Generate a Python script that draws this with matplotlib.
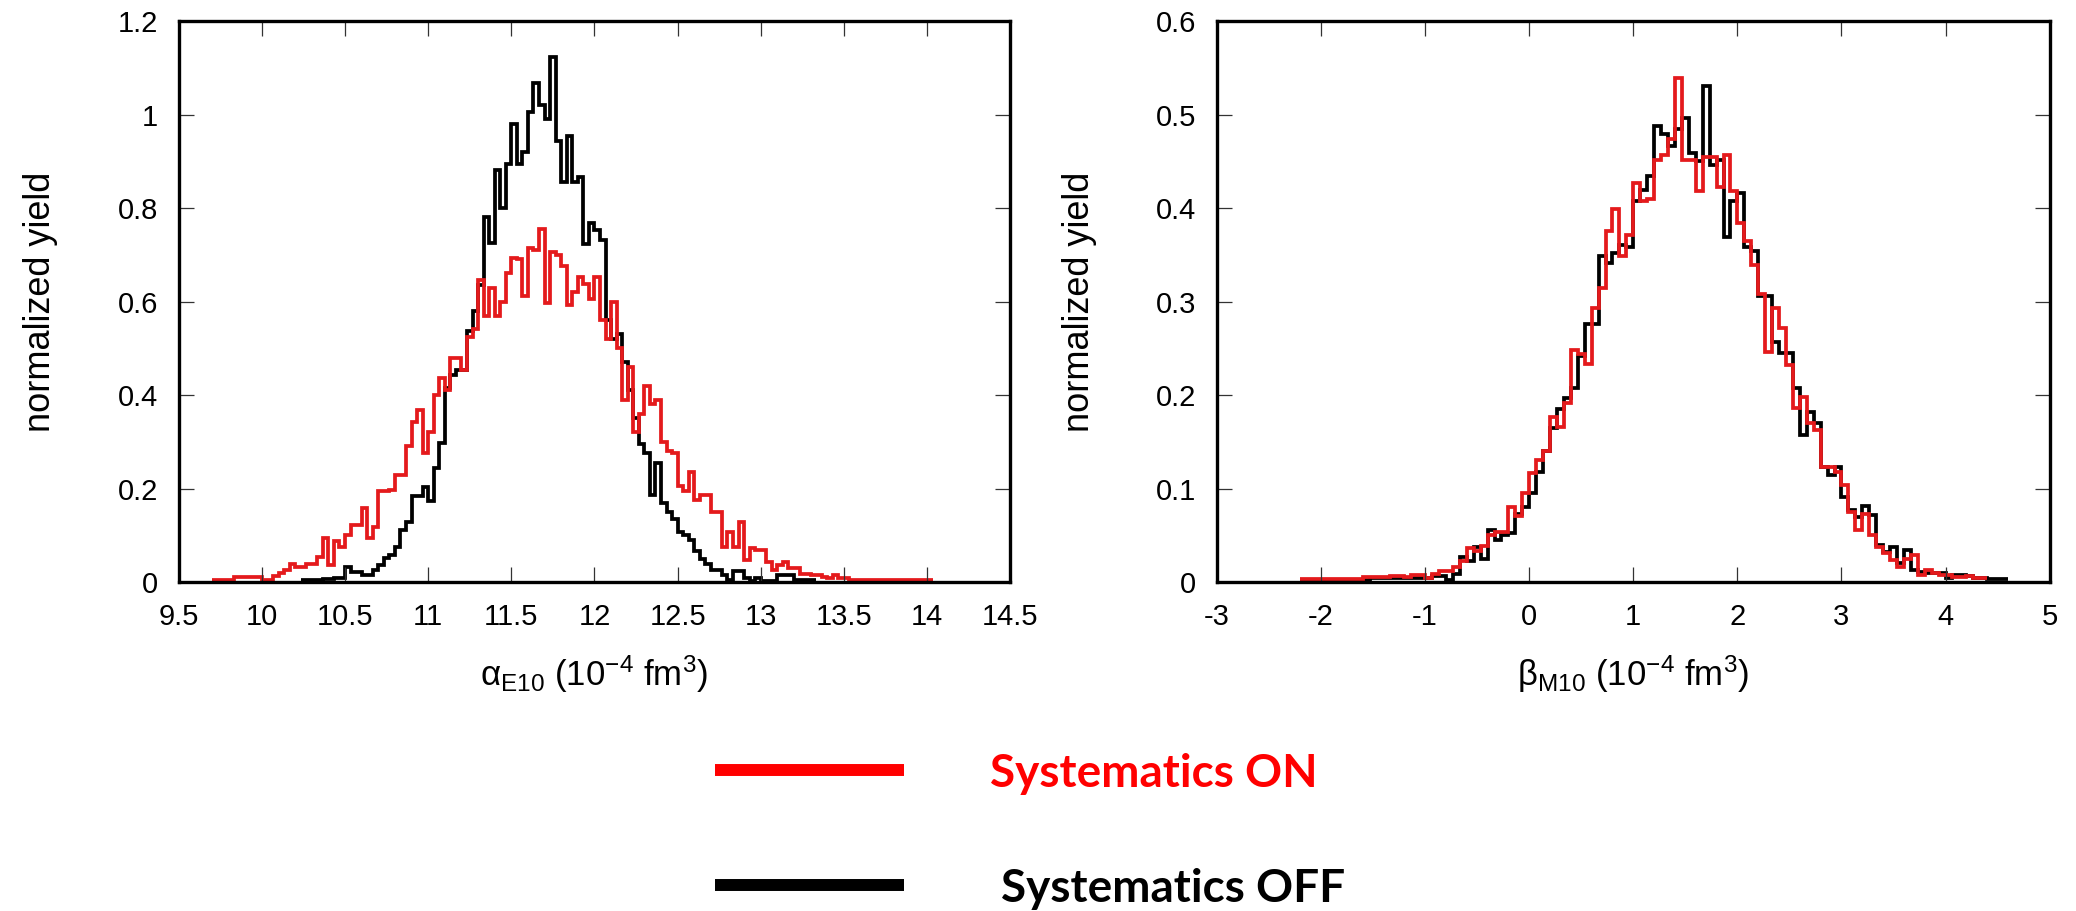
import numpy as np
import matplotlib
matplotlib.use("Agg")
import matplotlib.pyplot as plt
from matplotlib.lines import Line2D
from matplotlib.ticker import FuncFormatter, MultipleLocator

plt.rcParams["font.family"] = ["Liberation Sans", "DejaVu Sans"]
plt.rcParams["mathtext.fontset"] = "custom"
plt.rcParams["mathtext.rm"] = "Liberation Sans"
plt.rcParams["mathtext.it"] = "Liberation Sans:italic"
plt.rcParams["mathtext.default"] = "regular"
plt.rcParams["axes.unicode_minus"] = False

# -----------------------------
# Histogram contents (normalized yield per bin)
# -----------------------------
# alpha_E10: bin width 1/30, red starts at 9.7, black at 10.2333
ALPHA_BIN = 1.0 / 30.0
alpha_on_start = 9.5 + 6 * ALPHA_BIN
alpha_off_start = 9.5 + 22 * ALPHA_BIN

alpha_on = [
    0.005, 0.005, 0.005, 0.005, 0.010, 0.010, 0.010, 0.010, 0.010, 0.005,
    0.005, 0.012, 0.020, 0.025, 0.039, 0.032, 0.032, 0.039, 0.039, 0.054,
    0.094, 0.036, 0.087, 0.076, 0.100, 0.122, 0.123, 0.158, 0.094, 0.118,
    0.194, 0.194, 0.197, 0.229, 0.229, 0.290, 0.343, 0.368, 0.276, 0.322,
    0.401, 0.436, 0.411, 0.479, 0.479, 0.454, 0.525, 0.541, 0.646, 0.570,
    0.630, 0.570, 0.600, 0.662, 0.693, 0.690, 0.611, 0.714, 0.710, 0.756,
    0.597, 0.705, 0.700, 0.676, 0.593, 0.620, 0.653, 0.638, 0.605, 0.653,
    0.560, 0.520, 0.600, 0.500, 0.390, 0.460, 0.320, 0.360, 0.420, 0.380,
    0.390, 0.300, 0.280, 0.275, 0.205, 0.195, 0.235, 0.176, 0.187, 0.187,
    0.150, 0.150, 0.076, 0.108, 0.076, 0.128, 0.047, 0.072, 0.068, 0.068,
    0.043, 0.026, 0.036, 0.043, 0.029, 0.029, 0.018, 0.018, 0.015, 0.015,
    0.011, 0.008, 0.015, 0.008, 0.008, 0.005, 0.005, 0.005, 0.005, 0.005,
    0.005, 0.005, 0.005, 0.005, 0.005, 0.005, 0.005, 0.005, 0.005, 0.005,
]

alpha_off = [
    0.004, 0.004, 0.005, 0.005, 0.006, 0.006, 0.008, 0.008,
    0.033, 0.022, 0.022, 0.015, 0.015, 0.026, 0.036, 0.051, 0.058, 0.076,
    0.111, 0.129, 0.183, 0.183, 0.204, 0.173, 0.245, 0.297, 0.415, 0.443,
    0.454, 0.454, 0.536, 0.580, 0.636, 0.780, 0.725, 0.882, 0.800, 0.895,
    0.980, 0.895, 0.920, 1.005, 1.067, 1.020, 0.990, 1.123,
    0.944, 0.855, 0.955, 0.855, 0.866, 0.724, 0.769, 0.754, 0.732, 0.560,
    0.520, 0.530, 0.470, 0.410, 0.350, 0.295, 0.276, 0.187, 0.254, 0.170,
    0.150, 0.135, 0.108, 0.100, 0.090, 0.067, 0.049, 0.038, 0.026, 0.026,
    0.015, 0.004, 0.023, 0.023, 0.008, 0.002, 0.008, 0.003, 0.003, 0.003,
    0.015, 0.015, 0.015, 0.004, 0.004, 0.004, 0.004,
]

# beta_M10: bin width 1/15, both series start at -2.2
BETA_BIN = 1.0 / 15.0
beta_start = -33 * BETA_BIN

beta_on = [
    0.003, 0.003, 0.003, 0.003, 0.003, 0.003, 0.003, 0.003, 0.003,
    0.005, 0.005, 0.005, 0.005, 0.006, 0.006, 0.005, 0.007, 0.007, 0.004,
    0.009, 0.012, 0.012, 0.016,
    0.022, 0.036, 0.033, 0.039, 0.050, 0.054, 0.054, 0.080, 0.071, 0.095,
    0.117, 0.131, 0.140, 0.177, 0.166, 0.192, 0.248, 0.244, 0.233, 0.293,
    0.315, 0.375, 0.399, 0.349, 0.371,
    0.427, 0.408, 0.410, 0.451, 0.457, 0.474, 0.539, 0.451, 0.451, 0.418,
    0.455, 0.455, 0.423, 0.457, 0.418,
    0.384, 0.365, 0.339, 0.308, 0.246, 0.293, 0.272, 0.232, 0.186, 0.198,
    0.170, 0.163, 0.123, 0.123, 0.118,
    0.104, 0.075, 0.056, 0.073, 0.050, 0.038, 0.031, 0.024, 0.016, 0.025,
    0.029, 0.008, 0.013, 0.010, 0.007,
    0.007, 0.005, 0.005, 0.006, 0.004, 0.004,
]

beta_off = [
    0.002, 0.002, 0.002, 0.002, 0.002, 0.002, 0.002, 0.002, 0.002, 0.002,
    0.004, 0.004, 0.004, 0.004, 0.004, 0.004, 0.004, 0.004, 0.004,
    0.006, 0.006, 0.002, 0.009, 0.027, 0.022, 0.038, 0.025, 0.056, 0.045,
    0.050, 0.052, 0.073, 0.080,
    0.095, 0.118, 0.140, 0.165, 0.185, 0.197, 0.208, 0.242, 0.276, 0.276,
    0.349, 0.341, 0.352, 0.360, 0.358,
    0.408, 0.419, 0.434, 0.488, 0.479, 0.466, 0.485, 0.496, 0.459, 0.450,
    0.530, 0.446, 0.451, 0.369, 0.408,
    0.416, 0.358, 0.354, 0.306, 0.306, 0.257, 0.245, 0.245, 0.207, 0.157,
    0.182, 0.170, 0.123, 0.114, 0.123,
    0.091, 0.077, 0.070, 0.081, 0.072, 0.040, 0.032, 0.038, 0.020, 0.034,
    0.013, 0.011, 0.010, 0.010, 0.010,
    0.004, 0.008, 0.007, 0.006, 0.004, 0.004, 0.003, 0.003, 0.003,
]

legend_labels = ["Systematics ON", "Systematics OFF"]

RED = "#e41a1c"
LEGEND_RED = "#ff0000"
HIST_LW = 2.7


def edges(start, width, values):
    return start + width * np.arange(len(values) + 1)


def style_axes(ax):
    for sp in ax.spines.values():
        sp.set_linewidth(2.4)
        sp.set_color("black")
    ax.tick_params(which="both", direction="in", top=True, right=True,
                   length=10.5, width=0.9, color="#333333",
                   labelsize=21, pad=15)
    fmt = FuncFormatter(lambda v, p: "%g" % round(v, 6))
    ax.xaxis.set_major_formatter(fmt)
    ax.yaxis.set_major_formatter(fmt)


fig = plt.figure(figsize=(20.76, 9.11), dpi=100)

# left: alpha_E10
ax1 = fig.add_axes([0.0861, 0.3611, 0.4005, 0.6158])
ax1.stairs(alpha_off, edges(alpha_off_start, ALPHA_BIN, alpha_off),
           color="black", lw=HIST_LW, baseline=None)
ax1.stairs(alpha_on, edges(alpha_on_start, ALPHA_BIN, alpha_on),
           color=RED, lw=HIST_LW, baseline=None)
ax1.set_xlim(9.5, 14.5)
ax1.set_ylim(0, 1.2)
ax1.xaxis.set_major_locator(MultipleLocator(0.5))
ax1.yaxis.set_major_locator(MultipleLocator(0.2))
style_axes(ax1)
ax1.set_xlabel(r"$\alpha_{E10}$ (10$^{-4}$ fm$^{3}$)", fontsize=25)
ax1.set_ylabel("normalized yield", fontsize=26)
ax1.xaxis.set_label_coords(0.5, -0.127)
ax1.yaxis.set_label_coords(-0.145, 0.5)

# right: beta_M10
ax2 = fig.add_axes([0.5862, 0.3611, 0.4011, 0.6158])
ax2.stairs(beta_off, edges(beta_start, BETA_BIN, beta_off),
           color="black", lw=HIST_LW, baseline=None)
ax2.stairs(beta_on, edges(beta_start, BETA_BIN, beta_on),
           color=RED, lw=HIST_LW, baseline=None)
ax2.set_xlim(-3, 5)
ax2.set_ylim(0, 0.6)
ax2.xaxis.set_major_locator(MultipleLocator(1))
ax2.yaxis.set_major_locator(MultipleLocator(0.1))
style_axes(ax2)
ax2.set_xlabel(r"$\beta_{M10}$ (10$^{-4}$ fm$^{3}$)", fontsize=25)
ax2.set_ylabel("normalized yield", fontsize=26)
ax2.xaxis.set_label_coords(0.5, -0.127)
ax2.yaxis.set_label_coords(-0.144, 0.5)

# shared legend drawn underneath both panels
for y, col in [(0.1548, LEGEND_RED), (0.0285, "black")]:
    fig.add_artist(Line2D([0.3444, 0.4355], [y, y], transform=fig.transFigure,
                          color=col, lw=8.6, solid_capstyle="butt"))
fig.text(0.4769, 1 - 787 / 911, legend_labels[0], color=LEGEND_RED,
         fontsize=33, fontweight="bold", family=["Lato", "DejaVu Sans"],
         va="baseline")
fig.text(0.4822, 1 - 902 / 911, legend_labels[1], color="black",
         fontsize=33, fontweight="bold", family=["Lato", "DejaVu Sans"],
         va="baseline")

fig.savefig("out.png", dpi=100)
